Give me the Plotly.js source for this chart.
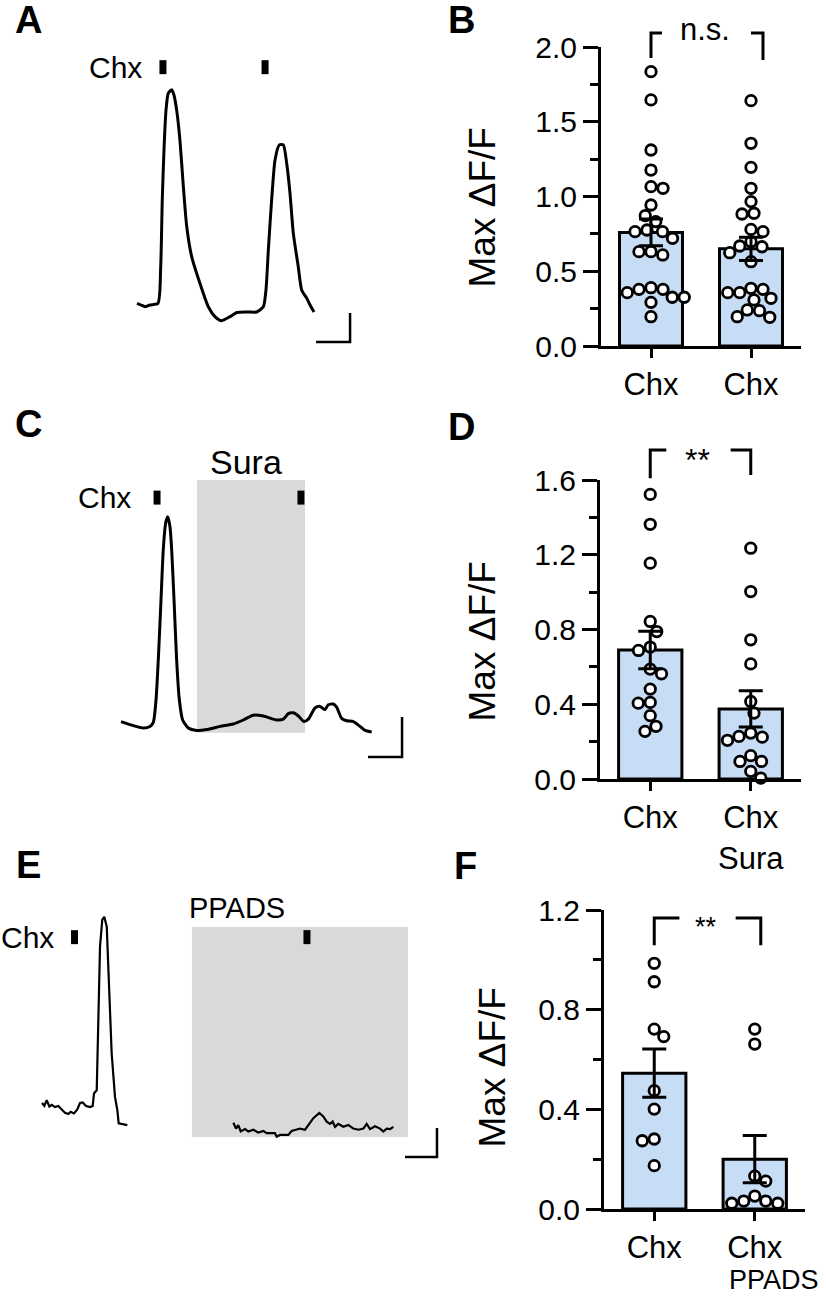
<!DOCTYPE html>
<html><head><meta charset="utf-8">
<script src="https://cdn.plot.ly/plotly-3.0.1.min.js"></script>
<style>html,body{margin:0;padding:0;background:#fff}#chart{width:826px;height:1296px}</style>
</head><body><div id="chart"></div>
<script>
// ================= DATA =================
// Panel A trace (time s, dF/F)
const tA = [0, 3.5, 7.1, 11.5, 18.5, 20.9, 22.3, 23.8, 25.6, 27.6, 30.6, 32.6, 35.0, 37.9, 40.9, 43.9, 48.3, 55.6, 62.9, 68.8, 74.7, 82.1, 88.0, 96.8, 105.6, 111.5, 113.8, 115.9, 118.8, 121.8, 125.6, 129.1, 132.1, 135.0, 137.9, 142.3, 145.3, 149.7, 152.7, 156.2];
const fA = [0.03, 0, -0.03, 0, 0.03, 0.66, 1.81, 2.67, 3.36, 3.65, 3.71, 3.62, 3.36, 2.84, 2.04, 1.35, 0.83, 0.37, -0.03, -0.2, -0.27, -0.2, -0.13, -0.12, -0.12, -0.03, 0.26, 0.95, 1.81, 2.5, 2.76, 2.76, 2.44, 1.93, 1.24, 0.66, 0.26, 0.12, 0, -0.12];
const chxA = [22.9, 113.0];

// Panel C trace
const tC = [0, 10.9, 19.7, 25.6, 28.5, 30.9, 32.9, 35.3, 37.3, 39.4, 41.2, 43.2, 44.7, 46.8, 49.1, 51.5, 54.4, 59.4, 66.8, 75.6, 87.4, 99.1, 107.9, 116.7, 125.6, 137.4, 143.2, 147.6, 152.0, 156.5, 161.5, 165.3, 171.2, 175.6, 180.0, 182.9, 187.3, 190.3, 194.7, 199.1, 205.0, 210.9, 215.3, 221.2];
const fC = [0.08, 0.03, 0, 0.02, 0.07, 0.35, 0.85, 1.6, 2.23, 2.56, 2.64, 2.52, 2.23, 1.6, 0.85, 0.35, 0.1, 0, -0.03, -0.02, 0.02, 0.05, 0.1, 0.16, 0.15, 0.1, 0.11, 0.18, 0.19, 0.15, 0.08, 0.11, 0.25, 0.27, 0.23, 0.29, 0.3, 0.26, 0.12, 0.09, 0.08, 0.02, -0.03, -0.05];
const chxC = [31.8, 158.8];
const suraWindow = [67.1, 162.4];

// Panel E traces
const tE1 = [0, 2.2, 4.4, 6.9, 9.1, 12.2, 15.3, 18.4, 21.6, 24.7, 26.9, 30.0, 33.1, 35.6, 38.1, 41.3, 45.0, 47.5, 48.8, 51.3, 52.8, 54.4, 56.5, 58.4, 60.7, 62.8, 65.3, 68.4, 70.6, 71.9, 74.7, 80.0];
const fE1 = [0.12, 0.07, 0.17, 0.06, 0.09, 0.05, 0.07, 0.01, -0.05, -0.07, -0.03, -0.06, 0.01, 0.12, 0.13, 0.07, 0.05, 0.07, 0.29, 0.34, 1.55, 2.82, 3.28, 3.33, 3.16, 2.24, 0.98, 0.23, 0, -0.23, -0.24, -0.26];
const tE2 = [179.4, 181.9, 184.0, 186.3, 190.3, 193.4, 198.1, 202.8, 207.5, 210.6, 218.4, 220.0, 223.1, 230.9, 234.1, 238.8, 241.9, 246.6, 249.7, 254.4, 260.0, 263.7, 266.9, 270.0, 272.5, 274.7, 277.8, 282.5, 287.2, 291.9, 296.6, 301.3, 304.4, 307.5, 312.2, 316.9, 320.0, 323.1, 326.3, 329.4];
const fE2 = [-0.22, -0.32, -0.26, -0.37, -0.33, -0.37, -0.34, -0.39, -0.36, -0.40, -0.40, -0.46, -0.43, -0.43, -0.36, -0.34, -0.32, -0.34, -0.26, -0.14, -0.05, -0.11, -0.2, -0.24, -0.2, -0.29, -0.24, -0.29, -0.26, -0.32, -0.34, -0.32, -0.24, -0.33, -0.28, -0.32, -0.37, -0.32, -0.33, -0.29];
const chxE = [30.5, 248.4];
const ppadsWindow = [140.6, 343.1];

// Scale bars (s, dF/F)
const scaleBarTime = 30;
const scaleBarDF = 0.5;

// Panel B
const catsB = ['Chx', 'Chx'];
const meanB = [0.76, 0.65];
const semB = [0.09, 0.078];
const ptsB1 = [1.835, 1.646, 1.311, 1.177, 1.066, 1.055, 0.943, 0.872, 0.832, 0.776, 0.765, 0.765, 0.72, 0.631, 0.631, 0.609, 0.39, 0.379, 0.379, 0.357, 0.326, 0.326, 0.292, 0.196];
const ptsB2 = [1.641, 1.356, 1.195, 1.055, 0.966, 0.888, 0.883, 0.78, 0.765, 0.698, 0.669, 0.664, 0.624, 0.564, 0.386, 0.379, 0.357, 0.357, 0.319, 0.308, 0.241, 0.236, 0.196, 0.192];
const sigB = 'n.s.';

// Panel D
const catsD = ['Chx', 'Chx<br>Sura'];
const meanD = [0.69, 0.375];
const semD = [0.10, 0.097];
const ptsD1 = [1.523, 1.363, 1.155, 0.843, 0.789, 0.706, 0.688, 0.588, 0.563, 0.481, 0.41, 0.406, 0.339, 0.282, 0.255];
const ptsD2 = [1.235, 1.003, 0.745, 0.616, 0.415, 0.353, 0.246, 0.228, 0.224, 0.207, 0.125, 0.094, 0.094, 0.041, 0.005];
const sigD = '**';

// Panel F
const catsF = ['Chx', 'Chx'];
const subF = 'PPADS';
const meanF = [0.545, 0.2];
const semF = [0.097, 0.095];
const ptsF1 = [0.986, 0.912, 0.722, 0.692, 0.475, 0.401, 0.281, 0.274, 0.174];
const ptsF2 = [0.722, 0.662, 0.132, 0.112, 0.052, 0.032, 0.032, 0.023, 0.023];
const sigF = '**';

// ================= LAYOUT HELPERS =================
const W = 826, H = 1296;
const FONT = 'Liberation Sans, Arial, Helvetica, sans-serif';
const fx = px => px / W;
const fy = py => 1 - py / H;
const BAR_FILL = '#c7dcf5';

const tracePanels = {
  A: {xPx: [0, 450], yPx: [0, 380], ox: 137, oy: 305, sx: 0.8824, sy: 0.01724, barCorner: [188, -0.638], stimLevel: 4.1},
  C: {xPx: [0, 450], yPx: [400, 800], ox: 121, oy: 728, sx: 0.8824, sy: 0.0125, barCorner: [248, -0.3625], stimLevel: 2.88, box: [-0.06, 3.1], boxLabel: 3.325},
  E: {xPx: [0, 450], yPx: [830, 1200], ox: 42, oy: 1110, sx: 0.9375, sy: 0.01724, barCorner: [370.3, -0.81], stimLevel: 2.98, box: [-0.466, 3.155], boxLabel: 3.48}
};
function traceAxes(p) {
  return {
    x: {domain: [fx(p.xPx[0]), fx(p.xPx[1])], range: [(p.xPx[0] - p.ox) * p.sx, (p.xPx[1] - p.ox) * p.sx], visible: false, fixedrange: true},
    y: {domain: [fy(p.yPx[1]), fy(p.yPx[0])], range: [(p.oy - p.yPx[1]) * p.sy, (p.oy - p.yPx[0]) * p.sy], visible: false, fixedrange: true}
  };
}
const barPanels = {
  B: {xPx: [601, 801], yPx: [47, 346], max: 2.0, dtick: 0.5},
  D: {xPx: [600, 801], yPx: [480, 779], max: 1.6, dtick: 0.4},
  F: {xPx: [604, 805], yPx: [910, 1209], max: 1.2, dtick: 0.4}
};
function barAxes(p, cats, xa, ya) {
  return {
    x: {domain: [fx(p.xPx[0]), fx(p.xPx[1])], range: [-0.5, 1.5], anchor: ya, tickvals: [0, 1], ticktext: cats,
        showline: true, linewidth: 3, linecolor: '#000', ticks: 'outside', ticklen: 9, tickwidth: 3, tickcolor: '#000',
        showgrid: false, zeroline: false, fixedrange: true, tickfont: {family: FONT, size: 31, color: '#000'}},
    y: {domain: [fy(p.yPx[1]), fy(p.yPx[0])], range: [0, p.max], anchor: xa, dtick: p.dtick, tick0: 0, tickformat: '.1f',
        showline: true, linewidth: 3, linecolor: '#000', ticks: 'outside', ticklen: 15, tickwidth: 3, tickcolor: '#000',
        minor: {dtick: p.dtick / 2, tick0: 0, ticks: 'outside', ticklen: 8, tickwidth: 3, tickcolor: '#000', showgrid: false},
        showgrid: false, zeroline: false, fixedrange: true, tickfont: {family: FONT, size: 30, color: '#000'}}
  };
}
function yPaper(p, v) {
  const py = p.yPx[1] - (p.yPx[1] - p.yPx[0]) * v / p.max;
  return fy(py);
}
function swarm(vals, p) {
  const pxPerY = (p.yPx[1] - p.yPx[0]) / p.max;
  const pxPerCat = (p.xPx[1] - p.xPx[0]) / 2;
  const d = 12;
  const order = vals.map((v, i) => i).sort((a, b) => vals[b] - vals[a]);
  const placed = [];
  const off = new Array(vals.length).fill(0);
  let side = 1;
  order.forEach(i => {
    const y = vals[i] * pxPerY;
    for (let o = 0; o < 200; o += 0.25) {
      const cands = o === 0 ? [0] : [side * o, -side * o];
      let found = null;
      for (const c of cands) {
        if (placed.every(q => (q.x - c) ** 2 + (q.y - y) ** 2 >= d * d)) { found = c; break; }
      }
      if (found !== null) { off[i] = found; placed.push({x: found, y}); if (found !== 0) side = -side; break; }
    }
  });
  return off.map(o => o / pxPerCat);
}

const traces = [];
const shapes = [];
const annotations = [];
const layout = {
  width: W, height: H, margin: {l: 0, r: 0, t: 0, b: 0},
  paper_bgcolor: '#fff', plot_bgcolor: 'rgba(0,0,0,0)', showlegend: false,
  font: {family: FONT, color: '#000'}
};

// ---- trace panels ----
function addTracePanel(key, xa, ya, series, stims, windowT, windowLabel, labelAlign) {
  const p = tracePanels[key];
  const ax = traceAxes(p);
  layout[xa.replace('x', 'xaxis')] = ax.x;
  layout[ya.replace('y', 'yaxis')] = ax.y;
  if (windowT) {
    shapes.push({type: 'rect', xref: xa, yref: ya, x0: windowT[0], x1: windowT[1], y0: p.box[0], y1: p.box[1],
      fillcolor: '#d9d9d9', line: {width: 0}, layer: 'below'});
    annotations.push({xref: xa, yref: ya, x: labelAlign === 'left' ? windowT[0] - 4.7 : (windowT[0] + windowT[1]) / 2,
      y: p.boxLabel, text: windowLabel, showarrow: false, xanchor: labelAlign, yanchor: 'middle',
      xshift: labelAlign === 'left' ? 0 : -5,
      font: {family: FONT, size: labelAlign === 'left' ? 29 : 34, color: '#000'}});
  }
  series.forEach(s => traces.push({type: 'scatter', mode: 'lines', x: s[0], y: s[1], xaxis: xa, yaxis: ya,
    line: {color: '#000', width: s[2] || 3, shape: s[3] || 'linear', smoothing: 0.6}, hoverinfo: 'skip'}));
  traces.push({type: 'scatter', mode: 'markers', x: stims, y: stims.map(() => p.stimLevel), xaxis: xa, yaxis: ya,
    marker: {symbol: 'line-ns', size: 10, color: '#000', line: {color: '#000', width: 7}}, hoverinfo: 'skip'});
  annotations.push({xref: xa, yref: ya, x: stims[0], y: p.stimLevel, text: 'Chx', showarrow: false,
    xanchor: 'right', yanchor: 'middle', xshift: key === 'C' ? -24 : -19, font: {family: FONT, size: 30, color: '#000'}});
  const c = p.barCorner;
  traces.push({type: 'scatter', mode: 'lines', x: [c[0] - scaleBarTime, c[0], c[0]], y: [c[1], c[1], c[1] + scaleBarDF],
    xaxis: xa, yaxis: ya, line: {color: '#000', width: 2.5}, hoverinfo: 'skip'});
}
addTracePanel('A', 'x', 'y', [[tA, fA, 3, 'spline']], chxA, null);
addTracePanel('C', 'x3', 'y3', [[tC, fC, 3, 'spline']], chxC, suraWindow, 'Sura', 'center');
addTracePanel('E', 'x5', 'y5', [[tE1, fE1, 2.2], [tE2, fE2, 2.2]], chxE, ppadsWindow, 'PPADS', 'left');

// ---- bar panels ----
function addBarPanel(key, xa, ya, cats, mean, sem, p1, p2, sig, b) {
  const p = barPanels[key];
  const ax = barAxes(p, cats, xa, ya);
  layout[xa.replace('x', 'xaxis')] = ax.x;
  layout[ya.replace('y', 'yaxis')] = ax.y;
  traces.push({type: 'bar', x: [0, 1], y: mean, width: 0.63, xaxis: xa, yaxis: ya,
    marker: {color: BAR_FILL, line: {color: '#000', width: 3}}, hoverinfo: 'skip'});
  [p1, p2].forEach((pts, g) => {
    const off = swarm(pts, p);
    traces.push({type: 'scatter', mode: 'markers', x: off.map(o => g + o), y: pts, xaxis: xa, yaxis: ya, cliponaxis: false,
      marker: {symbol: 'circle', size: 10.5, color: '#fff', line: {color: '#000', width: 2.8}}, hoverinfo: 'skip'});
  });
  traces.push({type: 'scatter', mode: 'markers', x: [0, 1], y: mean, xaxis: xa, yaxis: ya, cliponaxis: false,
    marker: {size: 1, opacity: 0}, error_y: {type: 'data', array: sem, visible: true, color: '#000', thickness: 3, width: 12},
    hoverinfo: 'skip'});
  const yt = yPaper(p, b.top), y1 = yPaper(p, b.lo1), y2 = yPaper(p, b.lo2);
  shapes.push({type: 'path', xref: xa, yref: 'paper', path: `M0,${y1} L0,${yt} L${b.l},${yt}`, line: {color: '#000', width: 3}});
  shapes.push({type: 'path', xref: xa, yref: 'paper', path: `M${b.r0},${yt} L${b.r1},${yt} L${b.r1},${y2}`, line: {color: '#000', width: 3}});
  annotations.push({xref: xa, yref: 'paper', x: b.tx, y: yt + b.ty / H, text: sig, showarrow: false,
    xanchor: 'center', yanchor: 'middle', font: {family: FONT, size: b.fs, color: '#000'}});
  annotations.push({xref: 'paper', yref: 'paper', x: fx(b.titleX), y: fy((p.yPx[0] + p.yPx[1]) / 2 + b.titleDy), text: 'Max \u0394F/F',
    textangle: -90, showarrow: false, xanchor: 'center', yanchor: 'middle', font: {family: FONT, size: 37, color: '#000'}});
}
addBarPanel('B', 'x2', 'y2', catsB, meanB, semB, ptsB1, ptsB2, sigB,
  {l: 0.11, r0: 1.0, r1: 1.12, top: 2.094, lo1: 1.926, lo2: 1.913, tx: 0.54, ty: 3, fs: 31, titleX: 482, titleDy: 11});
addBarPanel('D', 'x4', 'y4', catsD, meanD, semD, ptsD1, ptsD2, sigD,
  {l: 0.16, r0: 0.8, r1: 1.0, top: 1.76, lo1: 1.61, lo2: 1.627, tx: 0.47, ty: -10, fs: 32, titleX: 482, titleDy: 12});
addBarPanel('F', 'x6', 'y6', catsF, meanF, semF, ptsF1, ptsF2, sigF,
  {l: 0.25, r0: 0.81, r1: 1.06, top: 1.168, lo1: 1.059, lo2: 1.059, tx: 0.51, ty: -9, fs: 27, titleX: 492, titleDy: 8});
annotations.push({xref: 'x6', yref: 'paper', x: 0.72, y: fy(1280), text: subF, showarrow: false, xanchor: 'left', yanchor: 'middle',
  font: {family: FONT, size: 27, color: '#000'}});

// panel letters
[['A', 28, 20], ['B', 462, 20], ['C', 28, 424], ['D', 462, 427], ['E', 28, 865], ['F', 465, 866]].forEach(l => {
  annotations.push({xref: 'paper', yref: 'paper', x: fx(l[1]), y: fy(l[2]), text: '<b>' + l[0] + '</b>', showarrow: false,
    xanchor: 'center', yanchor: 'middle', font: {family: FONT, size: 38, color: '#000'}});
});

layout.shapes = shapes;
layout.annotations = annotations;
Plotly.newPlot('chart', traces, layout, {staticPlot: true, displayModeBar: false});
</script>
</body></html>
